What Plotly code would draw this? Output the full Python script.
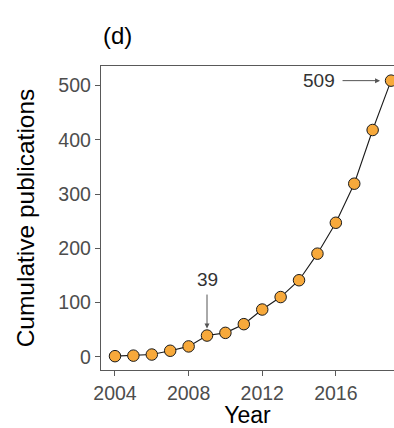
import plotly.graph_objects as go

# Cumulative publication counts per year
years = list(range(2004, 2020))
cumulative = [1, 2, 4, 11, 19, 39, 44, 60, 87, 110, 141, 190, 247, 319, 418, 509]

x_ticks = [2004, 2008, 2012, 2016]
y_ticks = [0, 100, 200, 300, 400, 500]

FONT = "Liberation Sans, Arial, Helvetica, sans-serif"
AXIS_GREY = "#595959"
TEXT_GREY = "#4d4d4d"

fig = go.Figure()
fig.add_trace(go.Scatter(
    x=years, y=cumulative,
    mode="lines+markers",
    line=dict(color="#1a1a1a", width=1.1),
    marker=dict(size=11.5, color="#F7A93B", line=dict(color="#1a1a1a", width=1)),
    showlegend=False,
))

# Callouts for 2009 and 2019 values
fig.add_annotation(
    x=2009, y=cumulative[years.index(2009)], text=str(cumulative[years.index(2009)]),
    showarrow=True, ax=0, ay=-56, standoff=7, startstandoff=3,
    arrowhead=2, arrowsize=1, arrowwidth=1, arrowcolor="#555555",
    font=dict(family=FONT, size=19, color="#333333"),
)
fig.add_annotation(
    x=2019, y=cumulative[-1], text=str(cumulative[-1]),
    showarrow=True, ax=-72, ay=0, standoff=11, startstandoff=6,
    arrowhead=2, arrowsize=1, arrowwidth=1, arrowcolor="#555555",
    font=dict(family=FONT, size=19, color="#333333"),
)

# Panel label above the plot area
fig.add_annotation(
    x=0.058, y=1.099, xref="paper", yref="paper", text="(d)", showarrow=False,
    xanchor="center", yanchor="middle",
    font=dict(family=FONT, size=24, color="black"),
)

fig.update_layout(
    width=394, height=428,
    margin=dict(l=101, r=0, t=66, b=58),
    paper_bgcolor="white", plot_bgcolor="white",
    font=dict(family=FONT),
    xaxis=dict(
        range=[2003.24, 2019.16],
        tickmode="array", tickvals=x_ticks, ticktext=[str(v) for v in x_ticks],
        showgrid=False, zeroline=False,
        showline=True, linecolor=AXIS_GREY, linewidth=1.4, mirror=True,
        ticks="outside", ticklen=5, tickwidth=1.2, tickcolor=AXIS_GREY,
        tickfont=dict(family=FONT, size=19.5, color=TEXT_GREY),
        title=dict(text="Year", font=dict(family=FONT, size=23, color="black"), standoff=3),
    ),
    yaxis=dict(
        range=[-24.5, 536],
        tickmode="array", tickvals=y_ticks, ticktext=[str(v) for v in y_ticks],
        showgrid=False, zeroline=False,
        showline=True, linecolor=AXIS_GREY, linewidth=1.4,
        ticks="outside", ticklen=5, tickwidth=1.2, tickcolor=AXIS_GREY,
        tickfont=dict(family=FONT, size=19.5, color=TEXT_GREY),
        title=dict(text="Cumulative publications", font=dict(family=FONT, size=24.5, color="black"), standoff=16),
    ),
)

fig.write_html("out.html")
